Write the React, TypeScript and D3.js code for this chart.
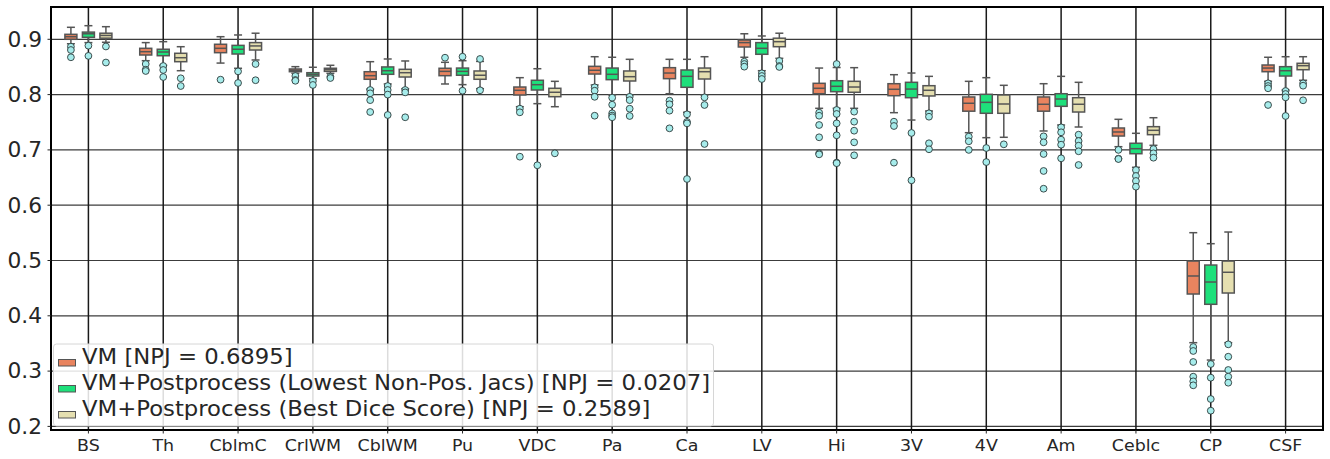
import * as d3 from "d3";

// categories along the x axis
const CATEGORIES = ["BS", "Th", "CblmC", "CrlWM", "CblWM", "Pu", "VDC", "Pa", "Ca", "LV", "Hi", "3V", "4V", "Am", "Ceblc", "CP", "CSF"];

const Y_TICKS = [0.2, 0.3, 0.4, 0.5, 0.6, 0.7, 0.8, 0.9];

// box stats per category: [whiskerLow, q1, median, q3, whiskerHigh]
const VM_STATS = [
  [0.892, 0.900, 0.9047, 0.909, 0.9217],
  [0.8613, 0.8716, 0.8776, 0.8837, 0.894],
  [0.857, 0.8758, 0.8837, 0.891, 0.9047],
  [0.8385, 0.8414, 0.844, 0.8463, 0.8505],
  [0.810, 0.8277, 0.8342, 0.8414, 0.8595],
  [0.8192, 0.8342, 0.842, 0.8476, 0.8584],
  [0.7781, 0.7993, 0.8078, 0.8137, 0.8306],
  [0.8174, 0.8372, 0.844, 0.8511, 0.8685],
  [0.8016, 0.8288, 0.839, 0.8487, 0.8638],
  [0.8675, 0.8861, 0.894, 0.8987, 0.910],
  [0.7752, 0.8016, 0.8114, 0.8204, 0.848],
  [0.7673, 0.798, 0.8096, 0.8197, 0.836],
  [0.7311, 0.770, 0.7843, 0.7957, 0.824],
  [0.7342, 0.770, 0.7825, 0.7957, 0.8197],
  [0.7058, 0.7251, 0.7324, 0.7396, 0.7553],
  [0.3514, 0.4394, 0.472, 0.499, 0.5503],
  [0.824, 0.8414, 0.848, 0.8535, 0.8675],
];
const VM_FLIERS = [
  [0.8866, 0.8806, 0.8675],
  [0.8553, 0.845, 0.8427],
  [0.827],
  [0.8336, 0.8264, 0.825],
  [0.8083, 0.8023, 0.790, 0.7685],
  [0.8667],
  [0.7745, 0.768, 0.6877],
  [0.8132, 0.807, 0.796, 0.7618],
  [0.789, 0.7825, 0.7709, 0.739],
  [0.8595, 0.8553, 0.8505],
  [0.7673, 0.7618, 0.745, 0.7228, 0.6938, 0.692],
  [0.751, 0.7432, 0.6769],
  [0.7239, 0.7156, 0.700],
  [0.7245, 0.7137, 0.6926, 0.6619, 0.6298],
  [0.700, 0.6842, 0.6835],
  [0.3436, 0.3364, 0.3165, 0.2899, 0.2815, 0.2743],
  [0.8204, 0.8155, 0.8114, 0.7812],
];

const PP_JAC_STATS = [
  [0.894, 0.9036, 0.910, 0.913, 0.9246],
  [0.853, 0.8703, 0.877, 0.882, 0.8957],
  [0.8476, 0.8734, 0.882, 0.889, 0.9078],
  [0.8288, 0.8336, 0.8367, 0.8396, 0.8494],
  [0.8192, 0.8367, 0.8432, 0.850, 0.8644],
  [0.818, 0.835, 0.842, 0.848, 0.8613],
  [0.7836, 0.8083, 0.8179, 0.8259, 0.8468],
  [0.7993, 0.827, 0.8367, 0.848, 0.8675],
  [0.768, 0.8132, 0.833, 0.8445, 0.8638],
  [0.8432, 0.8729, 0.8837, 0.894, 0.906],
  [0.7752, 0.8053, 0.815, 0.8251, 0.849],
  [0.754, 0.7944, 0.810, 0.8222, 0.839],
  [0.7221, 0.7662, 0.786, 0.8005, 0.8306],
  [0.745, 0.7788, 0.792, 0.8016, 0.833],
  [0.6685, 0.6931, 0.7022, 0.712, 0.730],
  [0.320, 0.4208, 0.4611, 0.4918, 0.5304],
  [0.8083, 0.8336, 0.8432, 0.8505, 0.8685],
];
const PP_JAC_FLIERS = [
  [0.8885, 0.870],
  [0.8517, 0.8445, 0.8318],
  [0.842, 0.821],
  [0.8246, 0.8174],
  [0.8155, 0.8083, 0.800, 0.7631],
  [0.8685, 0.807],
  [0.6722],
  [0.7944, 0.7817, 0.7662, 0.762, 0.759],
  [0.7644, 0.7505, 0.748, 0.6474],
  [0.8385, 0.8336, 0.8282],
  [0.8553, 0.7722, 0.765, 0.748, 0.7264, 0.677, 0.676],
  [0.7306, 0.645],
  [0.7034, 0.678],
  [0.7408, 0.7318, 0.7185, 0.7094, 0.6848],
  [0.6636, 0.6528, 0.6438, 0.6335],
  [0.3128, 0.2881, 0.2495, 0.2284],
  [0.8065, 0.8011, 0.795, 0.7613],
];

const PP_DICE_STATS = [
  [0.8946, 0.902, 0.907, 0.911, 0.9228],
  [0.8432, 0.8595, 0.8667, 0.8747, 0.8866],
  [0.8626, 0.8806, 0.888, 0.894, 0.911],
  [0.8385, 0.842, 0.845, 0.8476, 0.853],
  [0.8107, 0.8318, 0.8396, 0.8457, 0.8608],
  [0.8107, 0.8277, 0.835, 0.8427, 0.860],
  [0.7781, 0.7962, 0.8042, 0.8114, 0.824],
  [0.7993, 0.8246, 0.8324, 0.8427, 0.8638],
  [0.7993, 0.8282, 0.8414, 0.848, 0.8685],
  [0.8656, 0.8866, 0.8957, 0.902, 0.911],
  [0.7752, 0.8042, 0.8137, 0.824, 0.8487],
  [0.7703, 0.7975, 0.8078, 0.8161, 0.833],
  [0.7228, 0.7662, 0.783, 0.7993, 0.8168],
  [0.7414, 0.7685, 0.7825, 0.7944, 0.8222],
  [0.7083, 0.7275, 0.7354, 0.742, 0.7582],
  [0.3514, 0.4412, 0.4787, 0.499, 0.5515],
  [0.8259, 0.845, 0.8523, 0.8566, 0.8685],
];
const PP_DICE_FLIERS = [
  [0.887, 0.858],
  [0.8295, 0.8155],
  [0.8553, 0.826],
  [0.8324, 0.830],
  [0.8083, 0.804, 0.759],
  [0.8644, 0.8078],
  [0.6938],
  [0.796, 0.790, 0.7745, 0.7613],
  [0.795, 0.7812, 0.7107],
  [0.8608, 0.8517, 0.850],
  [0.7691, 0.751, 0.7347, 0.7137, 0.6902],
  [0.7662, 0.760, 0.712, 0.7011],
  [0.7101],
  [0.7275, 0.7161, 0.7076, 0.6975, 0.6727],
  [0.7016, 0.6938, 0.6859],
  [0.3484, 0.326, 0.302, 0.2899, 0.279],
  [0.8204, 0.8161, 0.7897],
];

const SERIES_NAMES = [
  "VM [NPJ = 0.6895]",
  "VM+Postprocess (Lowest Non-Pos. Jacs) [NPJ = 0.0207]",
  "VM+Postprocess (Best Dice Score) [NPJ = 0.2589]",
];

const COLORS = ["#E9845F", "#1EE07B", "#E5DFB0"];
const FONT = "DejaVu Sans, sans-serif";
const TEXT = "#262626";

const W = 1330;
const H = 459;
const margin = { top: 7, right: 7, bottom: 29, left: 51 };

export default function App() {
  const series = [
    { stats: VM_STATS, fliers: VM_FLIERS },
    { stats: PP_JAC_STATS, fliers: PP_JAC_FLIERS },
    { stats: PP_DICE_STATS, fliers: PP_DICE_FLIERS },
  ];

  const x = d3.scaleBand<string>()
    .domain(CATEGORIES)
    .range([margin.left, W - margin.right])
    .padding(0);
  const y = d3.scaleLinear()
    .domain([0.1935, 0.9584])
    .range([H - margin.bottom, margin.top]);

  const bw = x.bandwidth();
  const cx = (c: string) => (x(c) as number) + bw / 2;
  const offset = (i: number) => (i - 1) * bw * 0.234;
  const boxW = 12;
  const capW = 8;
  const edge = "#555";

  const top = margin.top;
  const bottom = H - margin.bottom;
  const left = margin.left;
  const right = W - margin.right;

  // the picture's text is a little wider than it is tall
  const stretched = (tx: number, ty: number, sx: number) => `translate(${tx},${ty}) scale(${sx},1)`;

  return (
    <div style={{ position: "absolute", left: 0, top: 0 }}>
      <svg width={W} height={H} style={{ display: "block", fontFamily: FONT }}>
        <rect x={0} y={0} width={W} height={H} fill="#fff" />

        {/* horizontal grid */}
        {Y_TICKS.map(t => (
          <line key={"h" + t} x1={left} x2={right} y1={y(t)} y2={y(t)}
            stroke="#3c3c3c" strokeWidth={1.2} />
        ))}
        {/* vertical grid through category centres */}
        {CATEGORIES.map(c => (
          <line key={"v" + c} x1={cx(c)} x2={cx(c)} y1={top} y2={bottom}
            stroke="#1a1a1a" strokeWidth={1.5} />
        ))}

        {/* boxes */}
        {series.map((s, si) => (
          <g key={"s" + si}>
            {CATEGORIES.map((c, ci) => {
              const [lo, q1, med, q3, hi] = s.stats[ci];
              const px = cx(c) + offset(si);
              return (
                <g key={c}>
                  <line x1={px} x2={px} y1={y(hi)} y2={y(q3)} stroke={edge} strokeWidth={1.5} />
                  <line x1={px} x2={px} y1={y(q1)} y2={y(lo)} stroke={edge} strokeWidth={1.5} />
                  <line x1={px - capW / 2} x2={px + capW / 2} y1={y(hi)} y2={y(hi)} stroke={edge} strokeWidth={1.5} />
                  <line x1={px - capW / 2} x2={px + capW / 2} y1={y(lo)} y2={y(lo)} stroke={edge} strokeWidth={1.5} />
                  <rect x={px - boxW / 2} y={y(q3)} width={boxW} height={y(q1) - y(q3)}
                    fill={COLORS[si]} stroke={edge} strokeWidth={1.5} />
                  <line x1={px - boxW / 2} x2={px + boxW / 2} y1={y(med)} y2={y(med)} stroke={edge} strokeWidth={1.5} />
                </g>
              );
            })}
          </g>
        ))}

        {/* fliers */}
        {series.map((s, si) => (
          <g key={"f" + si}>
            {CATEGORIES.map((c, ci) =>
              s.fliers[ci].map((v, k) => (
                <circle key={c + k} cx={cx(c) + offset(si)} cy={y(v)} r={3.4}
                  fill="#A6ECEB" stroke="#2e3b3b" strokeWidth={0.9} />
              ))
            )}
          </g>
        ))}

        {/* legend */}
        <g>
          <rect x={53.5} y={344} width={660} height={82} rx={3}
            fill="#fff" fillOpacity={0.85} stroke="#d6d6d6" strokeWidth={1} />
          {SERIES_NAMES.map((name, i) => (
            <g key={name} transform={`translate(0, ${357 + i * 26})`}>
              <rect x={58.5} y={2.5} width={17} height={6.5} fill={COLORS[i]} stroke={edge} strokeWidth={1} />
              <text transform={stretched(82, 0, 1.11)} dy="0.35em" fontSize={20.5} fill={TEXT}>{name}</text>
            </g>
          ))}
        </g>

        {/* axes frame */}
        <rect x={left} y={top} width={right - left} height={bottom - top}
          fill="none" stroke="#000" strokeWidth={2} />

        {/* y ticks */}
        {Y_TICKS.map(t => (
          <g key={"yt" + t}>
            <line x1={left - 3.5} x2={left} y1={y(t)} y2={y(t)} stroke="#262626" strokeWidth={1} />
            <text transform={stretched(42, y(t), 1.06)} dy="0.36em" textAnchor="end" fontSize={20.5} fill={TEXT}>
              {t.toFixed(1)}
            </text>
          </g>
        ))}

        {/* x ticks */}
        {CATEGORIES.map(c => (
          <g key={"xt" + c}>
            <line x1={cx(c)} x2={cx(c)} y1={bottom} y2={bottom + 3.5} stroke="#262626" strokeWidth={1} />
            <text transform={stretched(cx(c), 451, 1.09)} textAnchor="middle" fontSize={16} fill={TEXT}>{c}</text>
          </g>
        ))}
      </svg>
    </div>
  );
}
